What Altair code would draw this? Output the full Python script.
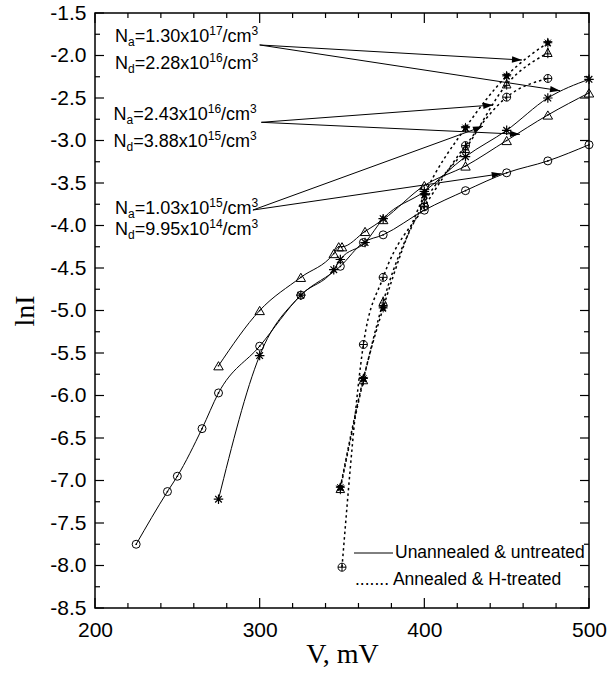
import math
import altair as alt
import pandas as pd

# ---------------- data ----------------
# Unannealed & untreated (solid lines)
un_circ_V = [225, 244, 250, 265, 275, 300, 325, 349, 363, 375, 400, 425, 450, 475, 500]
un_circ_I = [-7.75, -7.13, -6.95, -6.39, -5.97, -5.42, -4.82, -4.48, -4.20, -4.11, -3.82, -3.59, -3.38, -3.24, -3.05]
un_tri_V = [275, 300, 325, 345, 348, 350, 364, 375, 400, 425, 450, 475, 500]
un_tri_I = [-5.65, -5.00, -4.61, -4.33, -4.25, -4.25, -4.07, -3.93, -3.53, -3.30, -3.00, -2.70, -2.44]
un_ast_V = [275, 300, 325, 345, 349, 364, 375, 400, 425, 450, 475, 500]
un_ast_I = [-7.22, -5.53, -4.82, -4.52, -4.40, -4.20, -3.92, -3.60, -3.19, -2.88, -2.50, -2.28]
# Annealed & H-treated (dotted lines)
an_cp_V = [350, 363, 375, 400, 425, 450, 475]
an_cp_I = [-8.02, -5.40, -4.61, -3.78, -3.06, -2.49, -2.27]
an_tp_V = [349, 363, 375, 400, 425, 450, 475]
an_tp_I = [-7.10, -5.82, -4.90, -3.73, -3.10, -2.34, -1.97]
an_st_V = [349, 363, 375, 400, 425, 450, 475]
an_st_I = [-7.08, -5.80, -4.97, -3.64, -2.85, -2.24, -1.85]

# tick values
x_major = [200, 300, 400, 500]
x_minor = [220, 240, 260, 280, 320, 340, 360, 380, 420, 440, 460, 480]
y_major = [-8.5, -8.0, -7.5, -7.0, -6.5, -6.0, -5.5, -5.0, -4.5, -4.0, -3.5, -3.0, -2.5, -2.0, -1.5]
y_minor = [-8.25, -7.75, -7.25, -6.75, -6.25, -5.75, -5.25, -4.75, -4.25, -3.75, -3.25, -2.75, -2.25, -1.75]

# annotation texts: (subscript letter, mantissa, exponent)
ann_labels = [("a", "1.30", "17"), ("d", "2.28", "16"),
              ("a", "2.43", "16"), ("d", "3.88", "15"),
              ("a", "1.03", "15"), ("d", "9.95", "14")]
legend_texts = ["Unannealed & untreated", "....... Annealed & H-treated"]

# ---------------- layout ----------------
W, H = 494, 595
PADL, PADT = 95, 13
XMIN, XMAX, YMIN, YMAX = 200, 500, -8.5, -1.5


def vx(px):  # page pixel -> data V
    return XMIN + (px - PADL) * (XMAX - XMIN) / W


def vy(py):  # page pixel -> data lnI
    return YMAX - (py - PADT) * (YMAX - YMIN) / H


def px_of(v):
    return PADL + (v - XMIN) * W / (XMAX - XMIN)


def py_of(i):
    return PADT + (YMAX - i) * H / (YMAX - YMIN)


xs = alt.Scale(domain=[XMIN, XMAX], nice=False, zero=False)
ys = alt.Scale(domain=[YMIN, YMAX], nice=False, zero=False)

x_axis = alt.Axis(orient="bottom", values=x_major, title="V, mV", titleFont="Liberation Serif",
                  titleFontSize=28, titleFontWeight="normal", titleColor="black",
                  titleX=W / 2, titleY=54, titleBaseline="alphabetic", titleAlign="center",
                  labelFont="Liberation Sans", labelFontSize=21, labelColor="black",
                  labelPadding=11, labelFlush=False, ticks=False, tickSize=0,
                  domain=False, grid=False)
y_axis = alt.Axis(orient="left", values=y_major, title="lnI", titleFont="Liberation Serif",
                  titleFontSize=28, titleFontWeight="normal", titleColor="black",
                  titleAngle=270, titleX=-62, titleY=H / 2, titleBaseline="alphabetic",
                  titleAlign="center",
                  labelExpr="replace(format(datum.value, '.1f'), '\u2212', '-')",
                  labelFont="Liberation Sans", labelFontSize=21, labelColor="black",
                  labelPadding=9, labelFlush=False, ticks=False, tickSize=0,
                  domain=False, grid=False)

X = alt.X("V:Q", scale=xs, axis=x_axis)
Y = alt.Y("lnI:Q", scale=ys, axis=y_axis)


def df(v, i):
    return pd.DataFrame({"V": v, "lnI": i})


layers = []

# ---- ticks (inward, mirrored) ----
for vals, ln in ((x_major, 10), (x_minor, 5)):
    d = pd.DataFrame({"V": vals})
    layers.append(alt.Chart(d).mark_rule(color="black", strokeWidth=1.2).encode(
        x=X, y=alt.value(H), y2=alt.value(H - ln)))
    layers.append(alt.Chart(d).mark_rule(color="black", strokeWidth=1.2).encode(
        x=X, y=alt.value(0), y2=alt.value(ln)))
for vals, ln in ((y_major, 9), (y_minor, 5)):
    d = pd.DataFrame({"lnI": vals})
    layers.append(alt.Chart(d).mark_rule(color="black", strokeWidth=1.2).encode(
        y=Y, x=alt.value(0), x2=alt.value(ln)))
    layers.append(alt.Chart(d).mark_rule(color="black", strokeWidth=1.2).encode(
        y=Y, x=alt.value(W), x2=alt.value(W - ln)))

# ---- lines ----
for v, i in ((un_circ_V, un_circ_I), (un_tri_V, un_tri_I), (un_ast_V, un_ast_I)):
    layers.append(alt.Chart(df(v, i)).mark_line(color="black", strokeWidth=1,
                                                interpolate="monotone").encode(x=X, y=Y))
for v, i in ((an_cp_V, an_cp_I), (an_tp_V, an_tp_I), (an_st_V, an_st_I)):
    layers.append(alt.Chart(df(v, i)).mark_line(color="black", strokeWidth=1.5,
                                                strokeDash=[2.5, 3],
                                                interpolate="monotone").encode(x=X, y=Y))

# ---- symbols ----
ASTER = "M-1,0L1,0M0,-1L0,1M-0.7,-0.7L0.7,0.7M-0.7,0.7L0.7,-0.7"
CPLUS = "M-1,0A1,1,0,1,1,1,0A1,1,0,1,1,-1,0ZM-1,0L1,0M0,-1L0,1"
TPLUS = "M0,-1L0.9,0.75L-0.9,0.75ZM0,-1.15L0,1.1M-0.7,0.2L0.7,0.2"
_sp = []
for k in range(10):
    r = 1.0 if k % 2 == 0 else 0.42
    a = math.radians(-90 + 36 * k)
    _sp.append(f"{r * math.cos(a):.3f},{r * math.sin(a):.3f}")
STAR = "M" + "L".join(_sp) + "Z"


def pts(v, i, shape, size, filled=False, sw=1.0):
    if filled:
        m = alt.Chart(df(v, i)).mark_point(shape=shape, size=size, filled=True,
                                           color="black", opacity=1)
    else:
        m = alt.Chart(df(v, i)).mark_point(shape=shape, size=size, filled=False,
                                           color="black", strokeWidth=sw, opacity=1)
    return m.encode(x=X, y=Y)


layers.append(pts(un_circ_V, un_circ_I, "circle", 64))
layers.append(pts(un_circ_V, un_circ_I, "circle", 3, filled=True))
layers.append(pts(un_tri_V, un_tri_I, "triangle-up", 90))
layers.append(pts(un_tri_V, un_tri_I, "circle", 3, filled=True))
layers.append(pts(un_ast_V, un_ast_I, ASTER, 90, sw=1.2))
layers.append(pts(an_cp_V, an_cp_I, CPLUS, 64))
layers.append(pts(an_tp_V, an_tp_I, TPLUS, 90))
layers.append(pts(an_st_V, an_st_I, STAR, 110, filled=True))
layers.append(pts(an_st_V, an_st_I, ASTER, 80, sw=1.0))

# ---- annotation texts (with sub/superscripts) ----
EM = {"N": .722, "a": .556, "d": .556, "=": .584, ".": .278, "x": .5, "/": .278,
      "c": .5, "m": .833}


def tw(s, fs):
    return sum(EM.get(ch, .556) for ch in s) * fs


label_anchor_px = [(115, 41.7), (115, 68.5), (113.5, 119.5), (113.5, 147),
                   (115, 213.5), (115, 235)]
rows = []
for (sub, mant, ex), (x0, base) in zip(ann_labels, label_anchor_px):
    segs = [("N", 18, 0), (sub, 12, 4), ("=" + mant + "x10", 18, 0), (ex, 12, -7),
            ("/cm", 18, 0), ("3", 12, -7)]
    x = x0
    for s, fs, dy in segs:
        rows.append({"V": vx(x), "lnI": vy(base + dy), "t": s, "fs": fs})
        x += tw(s, fs)
txt = pd.DataFrame(rows)
layers.append(alt.Chart(txt).mark_text(align="left", baseline="alphabetic",
                                       font="Liberation Sans", color="black").encode(
    x=X, y=Y, text="t:N", size=alt.Size("fs:Q", scale=None)))

# ---- arrows ----
arrow_start = [(300.0, -1.876), (300.0, -1.876), (301.0, -2.786), (301.0, -2.786),
               (295.9, -3.818), (295.9, -3.818)]
arrow_end = [(459.3, -2.053), (482.4, -2.414), (441.8, -2.582), (458.1, -2.927),
             (435.6, -2.833), (447.0, -3.39)]
ar = []
for (v1, i1), (v2, i2) in zip(arrow_start, arrow_end):
    ang = math.degrees(math.atan2(py_of(i2) - py_of(i1), px_of(v2) - px_of(v1))) % 360
    ar.append({"V": v1, "lnI": i1, "V2": v2, "lnI2": i2, "ang": ang})
ar = pd.DataFrame(ar)
layers.append(alt.Chart(ar).mark_rule(color="black", strokeWidth=1).encode(
    x=X, y=Y, x2="V2:Q", y2="lnI2:Q"))
HEAD = "M0,0L-1,-0.32L-1,0.32Z"
heads = ar[["V2", "lnI2", "ang"]].rename(columns={"V2": "V", "lnI2": "lnI"})
layers.append(alt.Chart(heads).mark_point(shape=HEAD, size=400, filled=True,
                                          color="black", opacity=1).encode(
    x=X, y=Y, angle=alt.Angle("ang:Q", scale=None)))

# ---- legend ----
leg_line = pd.DataFrame({"V": [vx(354)], "V2": [vx(393)], "lnI": [vy(553)]})
layers.append(alt.Chart(leg_line).mark_rule(color="black", strokeWidth=1).encode(
    x=X, x2="V2:Q", y=Y))
leg_txt = pd.DataFrame({"V": [vx(395), vx(355)], "lnI": [vy(553), vy(580)],
                        "t": legend_texts})
layers.append(alt.Chart(leg_txt).mark_text(align="left", baseline="middle",
                                           font="Liberation Sans", fontSize=17.5,
                                           color="black").encode(x=X, y=Y, text="t:N"))

chart = alt.layer(*layers).properties(
    width=W, height=H,
    autosize=alt.AutoSizeParams(type="none"),
    padding={"left": PADL, "top": PADT, "right": 612 - PADL - W, "bottom": 679 - PADT - H},
    background="white",
).configure_view(stroke="black", strokeWidth=1.5)

chart.save("out.html", embed_options={"renderer": "svg", "actions": False})
